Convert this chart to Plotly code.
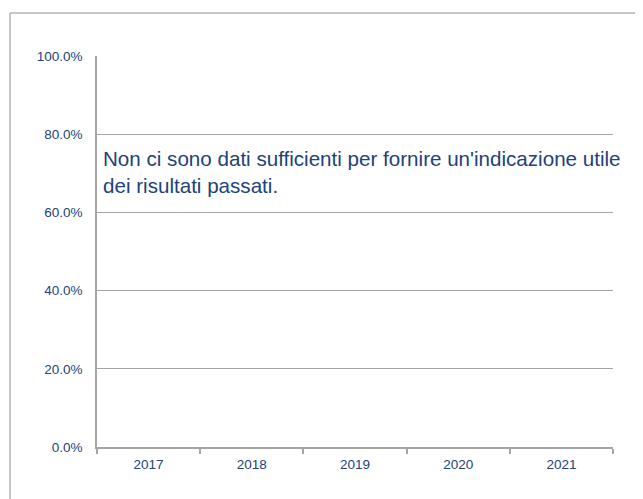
import plotly.graph_objects as go

years = ["2017", "2018", "2019", "2020", "2021"]
values = [None, None, None, None, None]
y_ticks = [0, 0.2, 0.4, 0.6, 0.8, 1.0]
message = "Non ci sono dati sufficienti per fornire un'indicazione utile<br>dei risultati passati."

text_color = "#22427a"
grid_color = "#a6a6a6"

fig = go.Figure()
fig.add_trace(go.Bar(x=years, y=values, marker_color="#1f3f6e", showlegend=False))

fig.update_layout(
    width=643, height=499,
    margin=dict(l=89, r=38, t=48, b=60),
    paper_bgcolor="white", plot_bgcolor="white",
    font=dict(family="Liberation Sans, Arial, sans-serif", size=13.5, color=text_color),
    showlegend=False,
)
fig.update_xaxes(
    type="category", categoryorder="array", categoryarray=years,
    showline=True, linecolor=grid_color, linewidth=1.5,
    ticks="outside", tickson="boundaries", ticklen=5, tickcolor=grid_color, tickwidth=1.5,
    ticklabelstandoff=4,
    showgrid=False, tickfont=dict(size=13.5, color=text_color), fixedrange=True,
)
fig.update_yaxes(
    range=[0, 1], tickvals=y_ticks, tickformat=".1%",
    showline=True, linecolor=grid_color, linewidth=1.5,
    ticks="", ticklabelstandoff=10,
    showgrid=True, gridcolor=grid_color, gridwidth=1, zeroline=False,
    tickfont=dict(size=13.5, color=text_color), fixedrange=True,
)
fig.add_annotation(
    text=message, xref="paper", yref="paper", x=0.008, y=0.703,
    xanchor="left", yanchor="middle", align="left", showarrow=False,
    font=dict(size=20.6, color=text_color, family="Liberation Sans, Arial, sans-serif"),
)
# outer frame (left and top edges visible)
fig.add_shape(type="line", xref="paper", yref="paper", x0=-0.1686, x1=-0.1686, y0=1.11, y1=-0.3,
              line=dict(color="#b3b3b3", width=1.5))
fig.add_shape(type="line", xref="paper", yref="paper", x0=-0.1686, x1=1.2, y0=1.11, y1=1.11,
              line=dict(color="#b3b3b3", width=1.5))

fig.write_html("out.html")
